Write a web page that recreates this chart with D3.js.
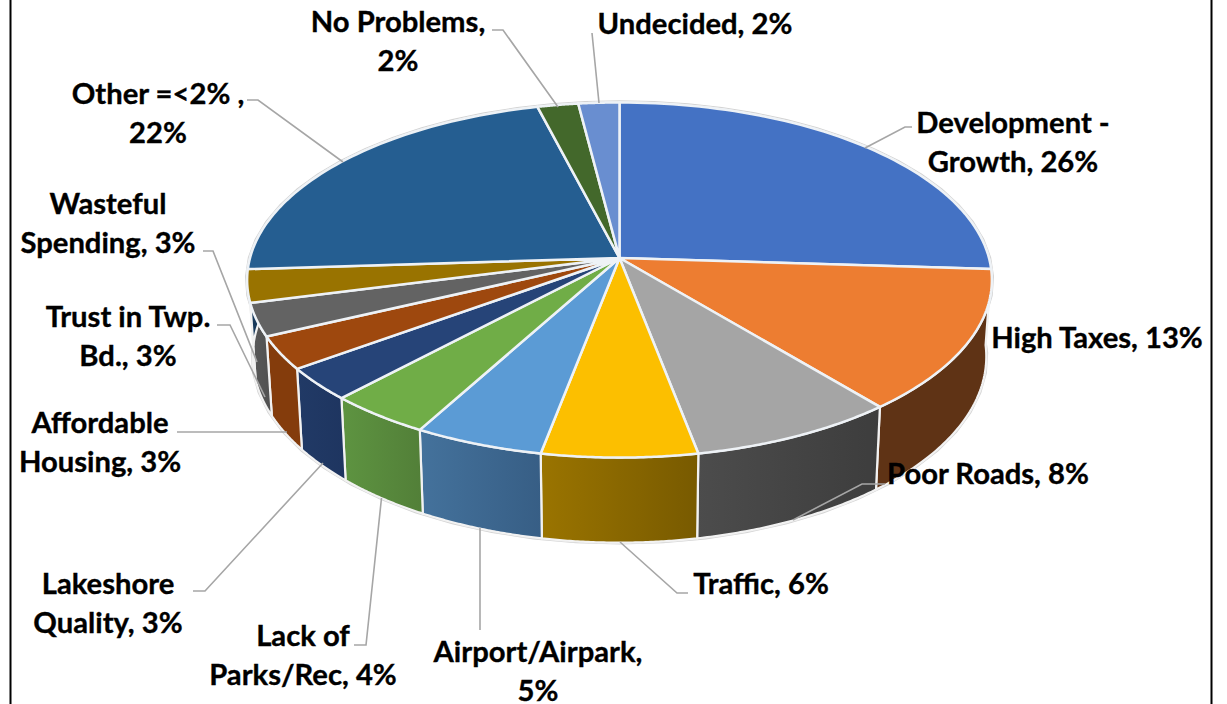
<!DOCTYPE html>
<html>
<head>
<meta charset="utf-8">
<script src="https://cdn.jsdelivr.net/npm/d3@7/dist/d3.min.js"></script>
<style>
html,body{margin:0;padding:0;background:#fff;overflow:hidden}
svg{display:block}
text{font-family:Lato,"Noto Sans",sans-serif;font-weight:700;fill:#000;font-size:29.2px;stroke:#000;stroke-width:0.35px}
</style>
</head>
<body>
<svg id="chart" width="1227" height="704"></svg>
<script>
// ---- data ----
const categories = ["Development - Growth","High Taxes","Poor Roads","Traffic","Airport/Airpark","Lack of Parks/Rec","Lakeshore Quality","Affordable Housing","Trust in Twp. Bd.","Wasteful Spending","Other =<2%","No Problems","Undecided"];
const values = [26,13,8,6,5,4,3,3,3,3,22,2,2];
const topColors = ["#4472c4","#ed7d31","#a5a5a5","#fcbf00","#5b9bd5","#70ad47","#264478","#9e480e","#636363","#997300","#255e91","#43682b","#698ed0"];
const sideColorsL = ["#2a4478","#5f3315","#4c4c4c","#9a7400","#44729c","#5e9441","#213a66","#843c0c","#5a5a5a","#5c4500","#16385a","#28401a","#3f5580"];
const sideColorsR = ["#2a4478","#5f3315","#3d3d3d","#785a00","#375e85","#527f38","#1e3560","#843c0c","#505050","#5c4500","#16385a","#28401a","#3f5580"];
const labelLines = [["Development -","Growth, 26%"],["High Taxes, 13%"],["Poor Roads, 8%"],["Traffic, 6%"],["Airport/Airpark,","5%"],["Lack of","Parks/Rec, 4%"],["Lakeshore","Quality, 3%"],["Affordable","Housing, 3%"],["Trust in Twp.","Bd., 3%"],["Wasteful","Spending, 3%"],["Other =<2% ,","22%"],["No Problems,","2%"],["Undecided, 2%"]];

// ---- layout ----
const labelCenters = [[1013,133],[1097,348],[988,484],[761,594],[538,662],[303,646],[108,594],[100,433],[128,327],[108,214],[158,104],[398,32],[695,34]];
const lineGap = 38.5;
const leaders = [
 [[865,148],[905,127],[912,127]],
 null,
 [[793,520],[862,484],[885,484]],
 [[620,542],[677,593],[688,593]],
 [[480,528],[480,630]],
 [[381.5,498],[366,645],[354,645]],
 [[323,463],[205,591],[193,591]],
 [[287,432],[177,432]],
 [[265,397],[230,325],[217,325]],
 [[257,362],[213,251],[203,251]],
 [[343,162],[258,100],[247,100]],
 [[558,107],[503,30],[492,30]],
 [[599,103],[592,33]]
];

const svg = d3.select("#chart");
const defs = svg.append("defs");

// perspective projection of the pie's disc
const apexX = 619.5, apexY = 258, kx = 369.5, ky = 174.8, persp = 0.124;
const sideSX = 0.985, sideSY = 1.048, sideDY = 75.5;
const project = (a, bottom) => {
  const x = Math.sin(a), y = -Math.cos(a), d = 1 - persp * y;
  return bottom
    ? [apexX + sideSX * kx * x / d, apexY + sideDY + sideSY * ky * y / d]
    : [apexX + kx * x / d, apexY + ky * y / d];
};
const arcPts = (a0, a1, bottom) => d3.range(0, 61).map(i => project(a0 + (a1 - a0) * i / 60, bottom));
const line = d3.line();

const pie = d3.pie().sort(null).startAngle(0).endAngle(2 * Math.PI).value(d => d);
const arcs = pie(values);

// outer light halo
const haloTop = arcPts(0, 2 * Math.PI, false);
const haloBot = arcPts(0, 2 * Math.PI, true);
svg.append("path").attr("d", line(haloBot) + "Z").attr("fill", "none").attr("stroke", "#d4d4d4").attr("stroke-width", 4);
svg.append("path").attr("d", line(haloTop) + "Z").attr("fill", "none").attr("stroke", "#d4d4d4").attr("stroke-width", 4.5);

// side walls
arcs.forEach((d, i) => {
  const id = "side" + i;
  const g = defs.append("linearGradient").attr("id", id).attr("x1", 0).attr("x2", 1).attr("y1", 0).attr("y2", 0);
  g.append("stop").attr("offset", 0).attr("stop-color", sideColorsL[i]);
  g.append("stop").attr("offset", 1).attr("stop-color", sideColorsR[i]);
  const outer = arcPts(d.startAngle, d.endAngle, false);
  const inner = arcPts(d.endAngle, d.startAngle, true);
  svg.append("path").attr("d", line(outer.concat(inner)) + "Z")
    .attr("fill", `url(#${id})`).attr("stroke", "#f2f2f2").attr("stroke-width", 2.2).attr("stroke-linejoin", "round");
});

// top surface
arcs.forEach((d, i) => {
  const pts = [[apexX, apexY]].concat(arcPts(d.startAngle, d.endAngle, false));
  svg.append("path").attr("d", line(pts) + "Z").attr("fill", topColors[i])
    .attr("stroke", "#eef2f6").attr("stroke-width", 2.5).attr("stroke-linejoin", "round");
});

// frame
svg.append("line").attr("x1", 10.5).attr("x2", 10.5).attr("y1", 0).attr("y2", 704).attr("stroke", "#000").attr("stroke-width", 2);
svg.append("line").attr("x1", 1211.5).attr("x2", 1211.5).attr("y1", 0).attr("y2", 704).attr("stroke", "#000").attr("stroke-width", 2);

// leader lines
leaders.forEach(l => {
  if (l) svg.append("path").attr("d", line(l)).attr("fill", "none").attr("stroke", "#a6a6a6").attr("stroke-width", 1.6);
});

// labels
labelLines.forEach((lines, i) => {
  const [cx, cy] = labelCenters[i];
  const t = svg.append("text").attr("text-anchor", "middle");
  lines.forEach((s, j) => t.append("tspan").attr("x", cx).attr("y", cy + j * lineGap).text(s));
});
</script>
</body>
</html>
